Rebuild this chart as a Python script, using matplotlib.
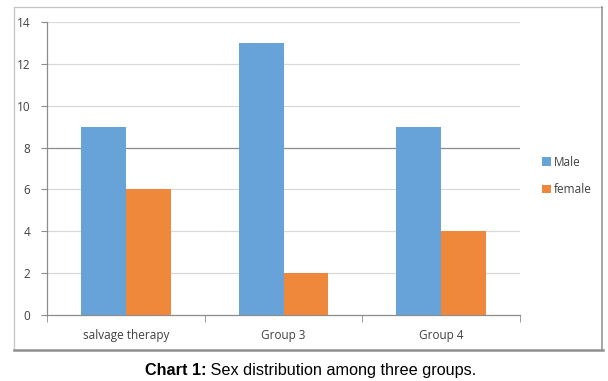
import matplotlib
matplotlib.use("Agg")
import matplotlib.pyplot as plt
import numpy as np

categories = ["salvage therapy", "Group 3", "Group 4"]
male = [9, 13, 9]
female = [6, 2, 4]
series_names = ["Male", "female"]
yticks = [0, 2, 4, 6, 8, 10, 12, 14]

blue = "#67A3D8"
orange = "#EF883B"

W, H = 608, 381
fig = plt.figure(figsize=(6.08, 3.81), dpi=100)
fig.patch.set_facecolor("white")

def fx(px):
    return px / W

def fy(py):
    return 1 - py / H

L, T, R, B = 13.5, 6.5, 601.5, 349.5
# outer frame
fig.add_artist(plt.Line2D([fx(L), fx(R)], [fy(T), fy(T)], transform=fig.transFigure,
                          color="#c4c4c4", lw=0.9))
fig.add_artist(plt.Line2D([fx(L), fx(L)], [fy(T), fy(B)], transform=fig.transFigure,
                          color="#c4c4c4", lw=0.9))
fig.add_artist(plt.Line2D([fx(R), fx(R)], [fy(T), fy(B)], transform=fig.transFigure,
                          color="#8e8e8e", lw=1.1))
fig.add_artist(plt.Line2D([fx(L), fx(R + 1)], [fy(B), fy(B)], transform=fig.transFigure,
                          color="#8e8e8e", lw=1.8))

ax = fig.add_axes([fx(47), fy(315), (520 - 47) / W, (315 - 22) / H])
x = np.arange(len(categories))
w = 0.285
ax.bar(x - w/2, male, w, color=blue, label=series_names[0], zorder=3)
ax.bar(x + w/2, female, w, color=orange, label=series_names[1], zorder=3)

ax.set_xlim(-0.5, len(categories) - 0.5)
ax.set_ylim(0, 14)
ax.set_yticks(yticks)
for yv in yticks[1:]:
    ax.axhline(yv, color="#8c8c8c" if yv == 8 else "#d9d9d9", lw=0.9, zorder=1)

ax.set_xticks(x)
ax.set_xticklabels(categories)
ax.set_xticks(np.arange(len(categories) + 1) - 0.5, minor=True)
ax.tick_params(axis="x", which="major", length=0, pad=10, labelsize=8.5, labelcolor="#404040")
ax.tick_params(axis="x", which="minor", length=5, color="#8c8c8c", direction="out")
ax.tick_params(axis="y", length=4, color="#8c8c8c", labelsize=8.5, labelcolor="#404040", pad=8)
for lab in ax.get_xticklabels() + ax.get_yticklabels():
    lab.set_family("Open Sans")

for s in ["top", "right"]:
    ax.spines[s].set_visible(False)
for s in ["left", "bottom"]:
    ax.spines[s].set_color("#8c8c8c")
    ax.spines[s].set_linewidth(0.9)

leg = ax.legend(loc="center left", bbox_to_anchor=(1.025, 0.474), frameon=False,
                handlelength=0.7, handleheight=0.7, handletextpad=0.3,
                labelspacing=1.25, prop={"family": "Open Sans", "size": 8.5})
for t in leg.get_texts():
    t.set_color("#404040")

t1 = fig.text(fx(145), fy(375), "Chart 1:", fontsize=11.7, fontweight="bold",
              family="Liberation Sans", va="baseline", ha="left")
ax.annotate(" Sex distribution among three groups.", xy=(1, 0), xycoords=t1,
            va="bottom", ha="left", fontsize=11.7, family="Liberation Sans",
            annotation_clip=False)

fig.savefig("out.png", dpi=100, facecolor="white")
